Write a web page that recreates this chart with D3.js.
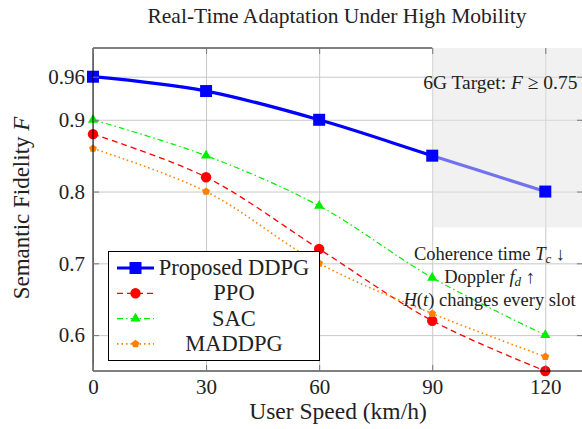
<!DOCTYPE html>
<html>
<head>
<meta charset="utf-8">
<script src="https://cdn.jsdelivr.net/npm/d3@7"></script>
<style>
  body { margin: 0; background: #fff; }
  text { font-family: "Liberation Serif", serif; fill: #222; }
</style>
</head>
<body>
<div id="chart"></div>
<script>
// chart data
const speeds = [0, 30, 60, 90, 120];
const ddpg = [0.96, 0.94, 0.90, 0.85, 0.80];
const ppo = [0.88, 0.82, 0.72, 0.62, 0.55];
const sac = [0.90, 0.85, 0.78, 0.68, 0.60];
const maddpg = [0.86, 0.80, 0.70, 0.63, 0.57];
const seriesNames = ["Proposed DDPG", "PPO", "SAC", "MADDPG"];
const xTicks = [0, 30, 60, 90, 120];
const yTicks = [0.6, 0.7, 0.8, 0.9, 0.96];
const targetX = [90, 130];     // shaded 6G target zone
const targetY = [0.75, 1.0];

const width = 582, height = 429;
const mLeft = 93, mTop = 48, plotW = 490, plotH = 323;

const svg = d3.select("#chart").append("svg")
    .attr("width", width).attr("height", height);

const x = d3.scaleLinear().domain([0, 130]).range([mLeft, mLeft + plotW]);
const y = d3.scaleLinear().domain([0.55, 1.0]).range([mTop + plotH, mTop]);

// pentagon marker for MADDPG
const pentagon = {
  draw(ctx, size) {
    const r = Math.sqrt(size / 2.38);
    for (let i = 0; i < 5; i++) {
      const a = -Math.PI / 2 + i * 2 * Math.PI / 5;
      if (i === 0) ctx.moveTo(r * Math.cos(a), r * Math.sin(a));
      else ctx.lineTo(r * Math.cos(a), r * Math.sin(a));
    }
    ctx.closePath();
  }
};

const series = [
  { name: seriesNames[0], values: ddpg, color: "#0000ff", width: 3.2, dash: null, symbol: d3.symbolSquare, size: 144 },
  { name: seriesNames[1], values: ppo, color: "#ff0000", width: 1.3, dash: "6,4", symbol: d3.symbolCircle, size: 85 },
  { name: seriesNames[2], values: sac, color: "#00ee00", width: 1.2, dash: "6,3,1.5,3", symbol: d3.symbolTriangle, size: 45 },
  { name: seriesNames[3], values: maddpg, color: "#ff8000", width: 1.6, dash: "1.5,3", symbol: pentagon, size: 40 }
];

// grid
svg.append("g")
    .attr("transform", "translate(0," + (mTop + plotH) + ")")
    .call(d3.axisBottom(x).tickValues(xTicks).tickSize(-plotH).tickFormat(""))
    .call(g => g.select(".domain").remove())
    .call(g => g.selectAll("line").attr("stroke", "#c8c8c8").attr("stroke-width", 1));
svg.append("g")
    .attr("transform", "translate(" + mLeft + ",0)")
    .call(d3.axisLeft(y).tickValues(yTicks).tickSize(-plotW).tickFormat(""))
    .call(g => g.select(".domain").remove())
    .call(g => g.selectAll("line").attr("stroke", "#c8c8c8").attr("stroke-width", 1));

// lines
const line = d3.line()
    .x((d, i) => x(speeds[i]))
    .y(d => y(d))
    .curve(d3.curveCatmullRom.alpha(0.5));

series.forEach(s => {
  svg.append("path")
      .datum(s.values)
      .attr("fill", "none")
      .attr("stroke", s.color)
      .attr("stroke-width", s.width)
      .attr("stroke-dasharray", s.dash)
      .attr("d", line);
});

// shaded target zone
svg.append("rect")
    .attr("x", x(targetX[0]))
    .attr("y", y(targetY[1]))
    .attr("width", x(targetX[1]) - x(targetX[0]))
    .attr("height", y(targetY[0]) - y(targetY[1]))
    .attr("fill", "#e4e4e4")
    .attr("fill-opacity", 0.5);

// markers
series.forEach(s => {
  svg.append("g").selectAll("path")
      .data(s.values)
      .join("path")
      .attr("transform", (d, i) => "translate(" + x(speeds[i]) + "," + y(d) + ")")
      .attr("d", d3.symbol().type(s.symbol).size(s.size))
      .attr("fill", s.color);
});

// frame (top edge stops where the target zone begins)
const frame = d3.path();
frame.moveTo(x(targetX[0]), y(1.0));
frame.lineTo(x(0), y(1.0));
frame.lineTo(x(0), y(0.55));
frame.lineTo(x(130), y(0.55));
frame.lineTo(x(130), y(1.0));
svg.append("path").attr("d", frame.toString())
    .attr("fill", "none").attr("stroke", "#000").attr("stroke-width", 1);

// inner tick marks
const tickCol = "#777";
svg.append("g").attr("transform", "translate(0," + (mTop + plotH) + ")")
    .call(d3.axisBottom(x).tickValues(xTicks).tickSize(-6).tickFormat(""))
    .call(g => g.select(".domain").remove())
    .call(g => g.selectAll("line").attr("stroke", tickCol));
svg.append("g").attr("transform", "translate(0," + mTop + ")")
    .call(d3.axisTop(x).tickValues(xTicks).tickSize(-6).tickFormat(""))
    .call(g => g.select(".domain").remove())
    .call(g => g.selectAll("line").attr("stroke", tickCol));
svg.append("g").attr("transform", "translate(" + mLeft + ",0)")
    .call(d3.axisLeft(y).tickValues(yTicks).tickSize(-6).tickFormat(""))
    .call(g => g.select(".domain").remove())
    .call(g => g.selectAll("line").attr("stroke", tickCol));
svg.append("g").attr("transform", "translate(" + (mLeft + plotW) + ",0)")
    .call(d3.axisRight(y).tickValues(yTicks).tickSize(-6).tickFormat(""))
    .call(g => g.select(".domain").remove())
    .call(g => g.selectAll("line").attr("stroke", tickCol));

// tick labels
svg.append("g").attr("transform", "translate(0," + (mTop + plotH) + ")")
    .call(d3.axisBottom(x).tickValues(xTicks).tickSize(0).tickPadding(8))
    .call(g => g.select(".domain").remove())
    .call(g => g.selectAll("text").attr("font-size", 21).attr("font-family", "Liberation Serif").attr("fill", "#222"));
svg.append("g").attr("transform", "translate(" + mLeft + ",0)")
    .call(d3.axisLeft(y).tickValues(yTicks).tickSize(0).tickPadding(8).tickFormat(d3.format("~g")))
    .call(g => g.select(".domain").remove())
    .call(g => g.selectAll("text").attr("font-size", 21).attr("font-family", "Liberation Serif").attr("fill", "#222"));

// title and axis labels
svg.append("text")
    .attr("x", 337).attr("y", 23)
    .attr("text-anchor", "middle").attr("font-size", 21.5)
    .text("Real-Time Adaptation Under High Mobility");

svg.append("text")
    .attr("x", 338).attr("y", 419)
    .attr("text-anchor", "middle").attr("font-size", 23.5)
    .text("User Speed (km/h)");

const yl = svg.append("text")
    .attr("transform", "translate(29,208) rotate(-90)")
    .attr("text-anchor", "middle").attr("font-size", 23);
yl.append("tspan").text("Semantic Fidelity ");
yl.append("tspan").attr("font-style", "italic").text("F");

// 6G target label
const tg = svg.append("text")
    .attr("x", x(87.6)).attr("y", 89)
    .attr("font-size", 19.5);
tg.append("tspan").text("6G Target:  ");
tg.append("tspan").attr("font-style", "italic").text("F");
tg.append("tspan").text(" ≥ 0.75");

// channel annotation
const ax = x(105.2);
const a1 = svg.append("text").attr("x", ax).attr("y", 260).attr("text-anchor", "middle").attr("font-size", 18.5);
a1.append("tspan").text("Coherence time ");
a1.append("tspan").attr("font-style", "italic").text("T");
a1.append("tspan").attr("font-style", "italic").attr("font-size", 13).attr("dy", 3).text("c");
a1.append("tspan").attr("dy", -3).text("  ↓");

const a2 = svg.append("text").attr("x", ax).attr("y", 283).attr("text-anchor", "middle").attr("font-size", 18.5);
a2.append("tspan").text("Doppler ");
a2.append("tspan").attr("font-style", "italic").text("f");
a2.append("tspan").attr("font-style", "italic").attr("font-size", 13).attr("dy", 3).text("d");
a2.append("tspan").attr("dy", -3).text("  ↑");

const a3 = svg.append("text").attr("x", ax).attr("y", 306).attr("text-anchor", "middle").attr("font-size", 18.5);
a3.append("tspan").attr("font-style", "italic").text("H");
a3.append("tspan").text("(");
a3.append("tspan").attr("font-style", "italic").text("t");
a3.append("tspan").text(") changes every slot");

// legend
const lg = svg.append("g");
lg.append("rect")
    .attr("x", 108.5).attr("y", 251.5).attr("width", 211).attr("height", 109)
    .attr("fill", "#fff").attr("stroke", "#000").attr("stroke-width", 1);
series.forEach((s, i) => {
  const cy = 268 + i * 25.3;
  lg.append("line")
      .attr("x1", 117).attr("x2", 154).attr("y1", cy).attr("y2", cy)
      .attr("stroke", s.color).attr("stroke-width", s.width)
      .attr("stroke-dasharray", s.dash);
  lg.append("path")
      .attr("transform", "translate(135.5," + cy + ")")
      .attr("d", d3.symbol().type(s.symbol).size(s.size))
      .attr("fill", s.color);
  lg.append("text")
      .attr("x", 234).attr("y", cy + 7)
      .attr("text-anchor", "middle").attr("font-size", 22.5)
      .text(s.name);
});
</script>
</body>
</html>
